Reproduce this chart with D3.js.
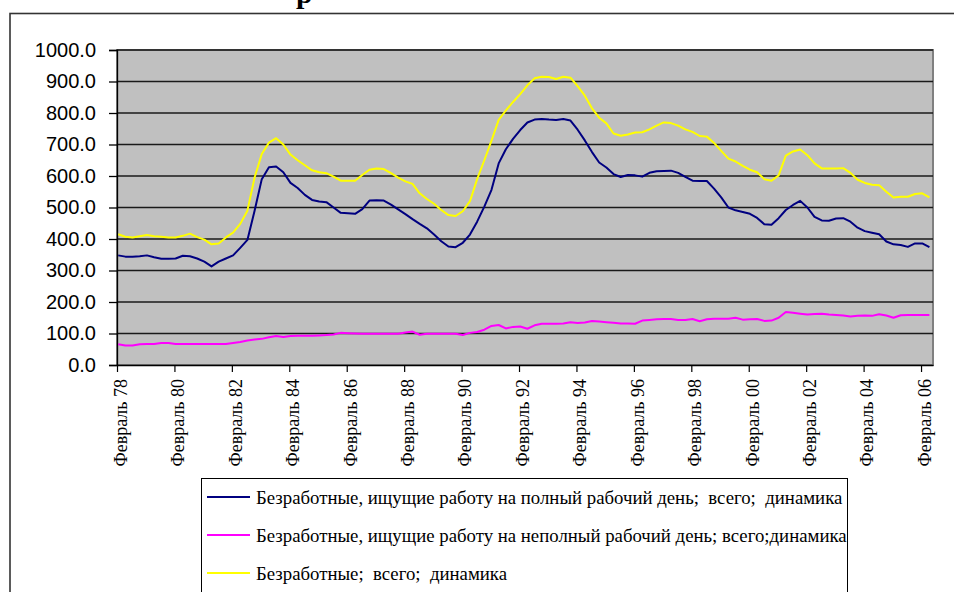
<html>
<head>
<meta charset="utf-8">
<script src="https://d3js.org/d3.v7.min.js"></script>
<style>
  body { margin: 0; background: #fff; }
  svg { display: block; }
</style>
</head>
<body>
<svg width="954" height="592"></svg>
<script>
// x labels, one every 24 months
const tickLabels = ["Февраль 78", "Февраль 80", "Февраль 82", "Февраль 84", "Февраль 86",
  "Февраль 88", "Февраль 90", "Февраль 92", "Февраль 94", "Февраль 96", "Февраль 98",
  "Февраль 00", "Февраль 02", "Февраль 04", "Февраль 06"];
const yTicks = [0, 100, 200, 300, 400, 500, 600, 700, 800, 900, 1000];
const monthsTotal = 341;   // Feb 78 .. Jun 06
const sampleStep = 3;      // values read every 3 months

// full-time job seekers
const fullTime = [
  348, 344, 344, 345,  348, 342, 337, 337,  338, 347, 345, 338,  328, 313, 328, 338,
  348, 372, 397, 490,  590, 628, 630, 612,  578, 562, 540, 524,  519, 517, 500, 483,
  482, 480, 495, 522,  523, 522, 509, 494,  479, 463, 448, 434,  414, 393, 376, 374,
  388, 414, 455, 503,  556, 640, 685, 718,  746, 770, 779, 781,  779, 778, 781, 776,
  747, 713, 676, 643,  627, 606, 597, 603,  602, 598, 610, 615,  616, 617, 610, 597,
  585, 584, 584, 560,  532, 500, 491, 486,  480, 467, 447, 445,  466, 492, 508, 521,
  500, 470, 459, 458,  465, 466, 455, 436,  425, 420, 415, 392,  383, 381, 375, 386,
  386, 374];
// part-time job seekers
const partTime = [
  66, 62, 62, 66,  67, 67, 70, 70,  67, 67, 67, 67,  67, 67, 67, 67,
  70, 73, 78, 81,  83, 88, 92, 89,  92, 93, 93, 93,  94, 95, 97, 102,
  101, 100, 99, 99,  99, 99, 99, 99,  103, 106, 96, 99,  99, 99, 99, 99,
  95, 102, 105, 112,  124, 127, 116, 121,  122, 115, 126, 131,  131, 131, 132, 136,
  133, 135, 140, 138,  136, 134, 132, 132,  131, 141, 143, 145,  146, 146, 143, 143,
  146, 139, 145, 147,  147, 147, 150, 144,  145, 146, 140, 141,  150, 168, 166, 163,
  160, 162, 163, 160,  159, 157, 154, 156,  157, 156, 161, 157,  150, 158, 159, 159,
  159, 159];
// all unemployed
const total = [
  415, 407, 405, 409,  413, 409, 407, 405,  405, 410, 417, 406,  398, 383, 386, 405,
  420, 448, 490, 595,  670, 706, 720, 700,  668, 650, 634, 618,  612, 609, 598, 585,
  585, 585, 603, 620,  624, 622, 609, 595,  583, 575, 545, 527,  512, 492, 476, 473,
  488, 520, 590, 650,  712, 778, 808, 835,  860, 888, 910, 915,  914, 908, 915, 912,
  885, 855, 815, 785,  767, 735, 728, 732,  738, 739, 748, 760,  770, 768, 760, 748,
  740, 727, 725, 705,  680, 655, 646, 632,  620, 612, 590, 585,  602, 665, 678, 684,
  666, 640, 624, 624,  624, 625, 610, 588,  578, 572, 571, 550,  532, 534, 534, 543,
  545, 532];

const seriesNames = [
  "Безработные, ищущие работу на полный рабочий день;  всего;  динамика",
  "Безработные, ищущие работу на неполный рабочий день; всего;динамика",
  "Безработные;  всего;  динамика"];
const seriesColors = ["#000080", "#ff00ff", "#ffff00"];
const seriesData = [fullTime, partTime, total];

const serif = "'Liberation Serif', 'Times New Roman', serif";
const sans = "'Liberation Sans', Arial, sans-serif";

const svg = d3.select("svg");
const plot = {left: 117, right: 933, top: 50, bottom: 365};

// outer chart frame
svg.append("rect").attr("x", 10).attr("y", 13.5).attr("width", 1000).attr("height", 700)
  .attr("fill", "#fff").attr("stroke", "#333").attr("stroke-width", 1.6);

// title (cut off at top, as in the source)
svg.append("text").attr("x", 296).attr("y", 3)
  .attr("font-family", serif)
  .attr("font-size", 30).attr("font-weight", "bold").text("р");

const x = d3.scaleLinear().domain([0, monthsTotal]).range([plot.left, plot.right]);
const y = d3.scaleLinear().domain([0, 1000]).range([plot.bottom, plot.top]);

svg.append("rect").attr("x", plot.left).attr("y", plot.top)
  .attr("width", plot.right - plot.left).attr("height", plot.bottom - plot.top)
  .attr("fill", "#c0c0c0").attr("stroke", "#808080").attr("stroke-width", 2);

// gridlines
svg.append("g").selectAll("line").data(yTicks.slice(1)).join("line")
  .attr("x1", plot.left).attr("x2", plot.right)
  .attr("y1", d => y(d)).attr("y2", d => y(d))
  .attr("stroke", "#1a1a1a").attr("stroke-width", 1.3);

// y axis
const yAxis = svg.append("g").attr("transform", `translate(${plot.left},0)`)
  .call(d3.axisLeft(y).tickValues(yTicks).tickFormat(d3.format(".1f")).tickSize(8).tickPadding(13));
yAxis.select(".domain").attr("stroke", "#000").attr("stroke-width", 1.3);
yAxis.selectAll(".tick line").attr("stroke", "#000").attr("stroke-width", 1.3);
yAxis.selectAll("text").attr("font-family", sans)
  .attr("font-size", 20).attr("fill", "#000");

// x axis
const xAxis = svg.append("g").attr("transform", `translate(0,${plot.bottom})`)
  .call(d3.axisBottom(x).tickValues(tickLabels.map((d, i) => i * 24))
    .tickFormat((d, i) => tickLabels[i]).tickSize(7).tickSizeOuter(0));
xAxis.select(".domain").attr("stroke", "#000").attr("stroke-width", 1.3);
xAxis.selectAll(".tick line").attr("stroke", "#000").attr("stroke-width", 1.2);
xAxis.selectAll("text")
  .attr("font-family", serif)
  .attr("font-size", 18).attr("fill", "#000")
  .attr("text-anchor", "end")
  .attr("transform", "rotate(-90)")
  .attr("x", -14).attr("y", 3).attr("dy", "0.35em");

// lines
const line = d3.line()
  .x((d, i) => x(i * sampleStep + 0.5))
  .y(d => y(d));
svg.append("g").selectAll("path").data(seriesData).join("path")
  .attr("d", d => line(d))
  .attr("fill", "none")
  .attr("stroke", (d, i) => seriesColors[i])
  .attr("stroke-width", 2)
  .attr("stroke-linejoin", "round");

// legend
const legend = svg.append("g");
legend.append("rect").attr("x", 201.5).attr("y", 478.5).attr("width", 646).attr("height", 200)
  .attr("fill", "#fff").attr("stroke", "#000").attr("stroke-width", 1);
const items = legend.selectAll("g.item").data(seriesNames).join("g")
  .attr("transform", (d, i) => `translate(0,${497 + i * 38})`);
items.append("line").attr("x1", 207).attr("x2", 250).attr("y1", 0).attr("y2", 0)
  .attr("stroke", (d, i) => seriesColors[i]).attr("stroke-width", 2);
items.append("text").attr("x", 256).attr("y", 0).attr("dy", "0.35em")
  .attr("font-family", serif)
  .attr("font-size", 18.8).attr("fill", "#000")
  .style("white-space", "pre").attr("xml:space", "preserve").text(d => d);
</script>
</body>
</html>
